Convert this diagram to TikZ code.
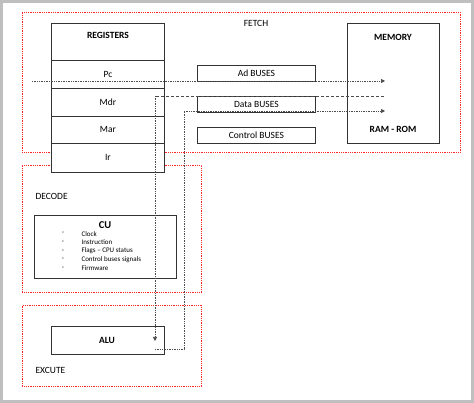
\documentclass[tikz,border=0pt]{standalone}
\usepackage{fontspec}
\setmainfont{Carlito}
\usetikzlibrary{arrows.meta}
\begin{document}
\begin{tikzpicture}[x=1pt,y=-1pt,
  stage/.style={draw=red!85,densely dotted,line width=0.8pt},
  box/.style={draw=black!80,line width=0.8pt},
  lbl/.style={font=\fontsize{9.5}{11}\selectfont},
  blbl/.style={font=\fontsize{9.5}{11}\selectfont\bfseries},
  bus/.style={draw=black!70,densely dotted,line width=0.7pt},
  dbus/.style={draw=black!70,densely dashed,line width=0.7pt},
  tip/.style={-{Triangle[length=4pt,width=4pt]}}]
\fill[black!25] (0,0) rectangle (474,403);
\fill[white] (3,3) rectangle (471,400);
\useasboundingbox (0,0) rectangle (474,403);
% stages
\node[stage,minimum width=438,minimum height=140,inner sep=0,anchor=north west] (fetch) at (22,12) {};
\node[stage,minimum width=179,minimum height=127,inner sep=0,anchor=north west] (decode) at (22,165) {};
\node[stage,minimum width=179,minimum height=81,inner sep=0,anchor=north west] (exec) at (22,305) {};
\node[lbl] (ft) at (256,23) {FETCH};
\node[lbl,anchor=west] (dt) at (32,196) {DECODE};
\node[lbl,anchor=west] (et) at (32,370) {EXCUTE};
% registers
\node[box,fill=white,minimum width=113,minimum height=37,inner sep=0,anchor=north west] (reg) at (51,23) {};
\node[blbl] at (108,35) {REGISTERS};
\node[box,fill=white,minimum width=113,minimum height=28,inner sep=0,anchor=north west,lbl] (pc) at (51,60) {Pc};
\node[box,fill=white,minimum width=113,minimum height=28,inner sep=0,anchor=north west,lbl] (mdr) at (51,88) {Mdr};
\node[box,fill=white,minimum width=113,minimum height=27,inner sep=0,anchor=north west,lbl] (mar) at (51,116) {Mar};
\node[box,fill=white,minimum width=113,minimum height=29,inner sep=0,anchor=north west,lbl] (ir) at (51,143) {Ir};
% memory
\node[box,minimum width=92,minimum height=120,inner sep=0,anchor=north west] (mem) at (347,23) {};
\node[blbl] (memt) at (393,37) {MEMORY};
\node[blbl] (ram) at (393,129) {RAM - ROM};
% buses
\node[box,minimum width=118,minimum height=16,inner sep=0,anchor=north west,lbl] (ad) at (197,65) {Ad BUSES};
\node[box,minimum width=118,minimum height=16,inner sep=0,anchor=north west,lbl] (data) at (197,96) {Data BUSES};
\node[box,minimum width=118,minimum height=16,inner sep=0,anchor=north west,lbl] (ctrl) at (197,127) {Control BUSES};
% CU
\node[box,minimum width=142,minimum height=63,inner sep=0,anchor=north west] (cu) at (34,215) {};
\node[font=\fontsize{10.5}{12}\selectfont\bfseries] (cut) at (105,225) {CU};
\foreach \t [count=\i] in {Clock,Instruction,Flags – CPU status,Control buses signals,Firmware}{
  \node[font=\fontsize{7}{8}\selectfont] at (63,225+8.7*\i) {-};
  \node[font=\fontsize{7}{8}\selectfont,anchor=west] at (78,225+8.7*\i) {\t};
}
% ALU
\node[box,minimum width=113,minimum height=28,inner sep=0,anchor=north west] (alu) at (51,326) {};
\node[blbl] (alut) at (107,340) {ALU};
% connectors
\coordinate (pcs) at (32,81);
\coordinate (pce) at (385,81);
\coordinate (mdre) at (384,96);
\coordinate (alin) at (155,341);
\coordinate (dte) at (385,111);
\coordinate (alout) at (155,349);
\draw[bus,tip] (pcs) -- (pce);
\draw[dbus] (mdre) -- (155,96);
\draw[bus,tip] (155,96) -- (alin);
\draw[bus] (alout) -- (184,349) -- (184,111);
\draw[bus,tip] (184,111) -- (dte);
\end{tikzpicture}
\end{document}
